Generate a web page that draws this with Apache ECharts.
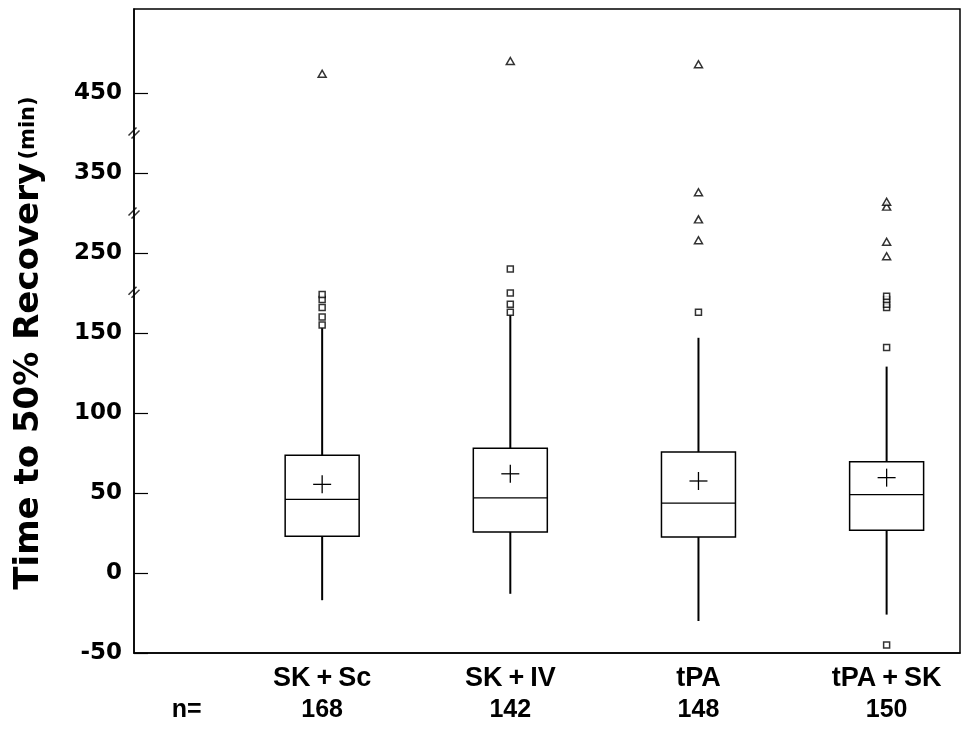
<!DOCTYPE html>
<html>
<head>
<meta charset="utf-8">
<script src="https://cdn.jsdelivr.net/npm/echarts@6/dist/echarts.min.js"></script>
<style>html,body{margin:0;padding:0;background:#fff;}#c{width:964px;height:733px;}</style>
</head>
<body>
<div id="c"></div>
<script>
// ---- data (real values, minutes) ----
var groups      = ['SK+Sc', 'SK+IV', 'tPA', 'tPA+SK'];
var counts      = [168, 142, 148, 150];
var whiskerLow  = [-17, -13, -30, -26];
var q1          = [23, 25.6, 22.5, 26.7];
var median      = [46, 47, 43.7, 49];
var q3          = [73.6, 78, 75.6, 69.6];
var whiskerHigh = [153, 161, 147, 129];
var means       = [55.4, 62, 57.5, 59.6];
// near outliers (squares) and far outliers (triangles), per group
var nearOutliers = [
  [155, 160, 166, 171, 174],
  [163, 168, 175, 240],
  [163],
  [141, 166, 168, 171, 173, -45]
];
var farOutliers = [
  [462],
  [470],
  [258, 271, 338, 468],
  [248, 257, 329, 332]
];
var yTickValues = [-50, 0, 50, 100, 150, 250, 350, 450];

// ---- broken axis mapping (real -> display) ----
function toDisp(v) {
  if (v <= 200) return v;
  if (v <= 300) return v - 50;
  if (v <= 400) return v - 100;
  return v - 150;
}
function fromDisp(d) {
  if (d <= 175.5) return d;
  if (d <= 225.5) return d + 50;
  if (d <= 275.5) return d + 100;
  return d + 150;
}
var breakDisp = [175.5, 225, 275];
var nLabelX = 0.28;

var boxData = groups.map(function (g, i) {
  return [i + 1, toDisp(whiskerLow[i]), toDisp(q1[i]), toDisp(median[i]), toDisp(q3[i]), toDisp(whiskerHigh[i]), toDisp(means[i])];
});
var nearData = [], farData = [];
groups.forEach(function (g, i) {
  nearOutliers[i].forEach(function (v) { nearData.push([i + 1, toDisp(v)]); });
  farOutliers[i].forEach(function (v) { farData.push([i + 1, toDisp(v)]); });
});
var yTickDisp = yTickValues.map(toDisp);

var chart = echarts.init(document.getElementById('c'));
var tickFont = 'DejaVu Sans';
var labFont = 'Liberation Sans';

function groupLabel(name) {
  var parts = name.split('+');
  return parts.map(function (p) { return '{c|' + p + '}'; }).join('{p|+}');
}

chart.setOption({
  animation: false,
  backgroundColor: '#fff',
  grid: { left: 134, right: 4, top: 9, bottom: 80, show: true, borderColor: '#000', borderWidth: 1.5 },
  xAxis: {
    type: 'value', min: 0, max: 4.39,
    splitLine: { show: false },
    axisLine: { onZero: false, lineStyle: { color: '#000', width: 1.5 } },
    axisTick: { show: false },
    axisLabel: {
      customValues: [nLabelX, 1, 2, 3, 4],
      margin: 11,
      formatter: function (v) {
        if (Math.abs(v - nLabelX) < 0.01) return '{c| }\n{n|n=}';
        var i = Math.round(v) - 1;
        var name = groups[i];
        if (!name) return '';
        return groupLabel(name) + '\n{n|' + counts[i] + '}';
      },
      rich: {
        c: { fontFamily: labFont, fontWeight: 'bold', fontSize: 27, color: '#000', lineHeight: 30 },
        p: { fontFamily: labFont, fontWeight: 'bold', fontSize: 27, color: '#000', lineHeight: 30, padding: [0, 6, 0, 6] },
        n: { fontFamily: labFont, fontWeight: 'bold', fontSize: 25, color: '#000', lineHeight: 32 }
      }
    }
  },
  yAxis: {
    type: 'value', min: -50, max: 352.5,
    splitLine: { show: false },
    axisLine: { onZero: false, lineStyle: { color: '#000', width: 1.5 } },
    axisTick: { show: true, inside: true, length: 14, customValues: yTickDisp, lineStyle: { color: '#000', width: 1.2 } },
    axisLabel: {
      customValues: yTickDisp, margin: 12,
      fontFamily: tickFont, fontWeight: 'bold', fontSize: 23, color: '#000',
      formatter: function (v) { return String(Math.round(fromDisp(v))); }
    },
    name: '{a|Time to 50% Recovery} {b|(min)}',
    nameLocation: 'middle', nameRotate: 90, nameGap: 88,
    nameTextStyle: {
      padding: [0, 24, 0, 0],
      rich: {
        a: { fontFamily: tickFont, fontWeight: 'bold', fontSize: 34, color: '#000' },
        b: { fontFamily: tickFont, fontWeight: 'bold', fontSize: 21, color: '#000' }
      }
    }
  },
  series: [
    {
      type: 'custom',
      data: boxData,
      encode: { x: 0, y: [1, 2, 3, 4, 5, 6] },
      renderItem: function (params, api) {
        var x = api.value(0);
        var lo = api.coord([x, api.value(1)]);
        var b1 = api.coord([x, api.value(2)]);
        var md = api.coord([x, api.value(3)]);
        var b3 = api.coord([x, api.value(4)]);
        var hi = api.coord([x, api.value(5)]);
        var mn = api.coord([x, api.value(6)]);
        var hw = 37, pw = 9;
        var st = { stroke: '#000', lineWidth: 1.5, fill: 'none' };
        return {
          type: 'group',
          children: [
            { type: 'rect', shape: { x: b3[0] - hw, y: b3[1], width: 2 * hw, height: b1[1] - b3[1] }, style: st },
            { type: 'line', shape: { x1: md[0] - hw, y1: md[1], x2: md[0] + hw, y2: md[1] }, style: { stroke: '#000', lineWidth: 1.3 } },
            { type: 'line', shape: { x1: hi[0], y1: hi[1], x2: b3[0], y2: b3[1] }, style: { stroke: '#000', lineWidth: 2 } },
            { type: 'line', shape: { x1: b1[0], y1: b1[1], x2: lo[0], y2: lo[1] }, style: { stroke: '#000', lineWidth: 2 } },
            { type: 'line', shape: { x1: mn[0] - pw, y1: mn[1], x2: mn[0] + pw, y2: mn[1] }, style: { stroke: '#000', lineWidth: 1.3 } },
            { type: 'line', shape: { x1: mn[0], y1: mn[1] - pw, x2: mn[0], y2: mn[1] + pw }, style: { stroke: '#000', lineWidth: 1.3 } }
          ]
        };
      },
      z: 2
    },
    {
      type: 'scatter', data: nearData, symbol: 'rect', symbolSize: 6,
      itemStyle: { color: '#fff', borderColor: '#000', borderWidth: 1.5 }, z: 3
    },
    {
      type: 'scatter', data: farData, symbol: 'triangle', symbolSize: [8, 7],
      itemStyle: { color: '#fff', borderColor: '#000', borderWidth: 1.5 }, z: 3
    },
    {
      type: 'scatter', data: breakDisp.map(function (d) { return [0, d]; }),
      symbol: 'path://M0,8L8,0M3,11L11,3', symbolSize: [11, 11], clip: false,
      itemStyle: { color: 'none', borderColor: '#000', borderWidth: 1.5 }, z: 4, silent: true
    }
  ]
});
</script>
</body>
</html>
